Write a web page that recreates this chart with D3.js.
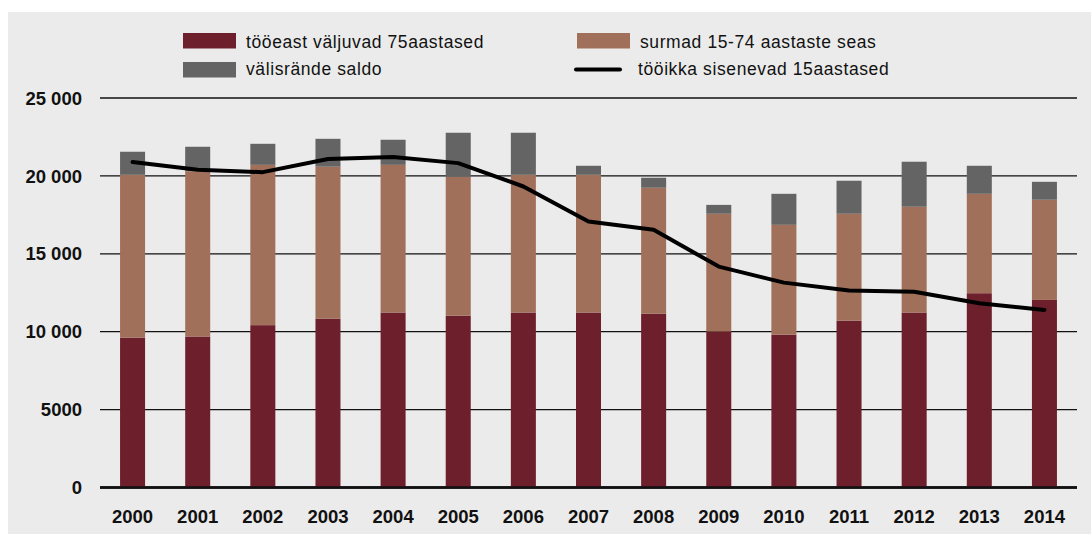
<!DOCTYPE html>
<html>
<head>
<meta charset="utf-8">
<script src="https://cdn.jsdelivr.net/npm/d3@7"></script>
<style>
  html, body { margin: 0; padding: 0; background: #fff; }
  svg { display: block; font-family: "Liberation Sans", Arial, sans-serif; }
</style>
</head>
<body>
<svg id="chart" width="1091" height="534"></svg>
<script>
// andmed
const years = ["2000","2001","2002","2003","2004","2005","2006","2007","2008","2009","2010","2011","2012","2013","2014"];
const retiring75 = [9620, 9690, 10420, 10840, 11230, 11030, 11230, 11230, 11160, 10010, 9810, 10710, 11230, 12470, 12040];
const deaths1574 = [10450, 10610, 10290, 9750, 9480, 8910, 8840, 8840, 8080, 7560, 7050, 6860, 6790, 6380, 6430];
const migration = [1480, 1570, 1350, 1790, 1610, 2830, 2700, 580, 640, 570, 1990, 2120, 2890, 1800, 1150];
const entering15 = [20890, 20390, 20240, 21080, 21210, 20820, 19320, 17070, 16540, 14180, 13150, 12640, 12560, 11830, 11400];
const yTicks = [0, 5000, 10000, 15000, 20000, 25000];

const seriesNames = ["tööeast väljuvad 75aastased", "surmad 15-74 aastaste seas", "välisrände saldo"];
const lineName = "tööikka sisenevad 15aastased";
const colors = ["#6e1f2c", "#a0705b", "#646464"];

const svg = d3.select("#chart");

// taust
svg.append("rect")
  .attr("x", 8).attr("y", 12)
  .attr("width", 1083).attr("height", 522)
  .attr("fill", "#ebebeb");

const x = d3.scaleBand()
  .domain(years)
  .range([100, 1077])
  .paddingInner(0.616)
  .paddingOuter(0.308);

const y = d3.scaleLinear()
  .domain([0, 25000])
  .range([487.5, 98]);

// ruudustik
const grid = svg.append("g").attr("class", "grid");
grid.selectAll("line")
  .data(yTicks)
  .enter()
  .append("line")
  .attr("x1", 100).attr("x2", 1077)
  .attr("y1", d => y(d)).attr("y2", d => y(d))
  .attr("stroke", "#111")
  .attr("stroke-width", d => d === 0 ? 2.6 : 1.3);

// y-telje sildid
const fmt = d => d >= 10000 ? d3.format(",")(d).replace(/,/g, " ") : String(d);
svg.append("g").selectAll("text")
  .data(yTicks)
  .enter()
  .append("text")
  .attr("x", 82)
  .attr("y", d => y(d))
  .attr("dy", "0.36em")
  .attr("text-anchor", "end")
  .attr("font-size", 18.5)
  .attr("font-weight", "bold")
  .attr("fill", "#111")
  .text(fmt);

// virnastatud tulbad
const table = years.map((yr, i) => ({
  year: yr,
  s0: retiring75[i],
  s1: deaths1574[i],
  s2: migration[i]
}));
const stack = d3.stack().keys(["s0", "s1", "s2"])(table);

const barLayer = svg.append("g").attr("class", "bars");
barLayer.selectAll("g")
  .data(stack)
  .enter()
  .append("g")
  .attr("fill", (_, i) => colors[i])
  .selectAll("rect")
  .data(d => d)
  .enter()
  .append("rect")
  .attr("x", d => x(d.data.year))
  .attr("width", x.bandwidth())
  .attr("y", d => y(d[1]))
  .attr("height", d => y(d[0]) - y(d[1]));

// null-joon üle tulpade
svg.append("line")
  .attr("x1", 100).attr("x2", 1077)
  .attr("y1", y(0)).attr("y2", y(0))
  .attr("stroke", "#111")
  .attr("stroke-width", 2.6);

// joon
const line = d3.line()
  .x((_, i) => x(years[i]) + x.bandwidth() / 2)
  .y(d => y(d));

svg.append("path")
  .datum(entering15)
  .attr("d", line)
  .attr("fill", "none")
  .attr("stroke", "#000")
  .attr("stroke-width", 4)
  .attr("stroke-linejoin", "round")
  .attr("stroke-linecap", "round");

// x-telje sildid
svg.append("g").selectAll("text")
  .data(years)
  .enter()
  .append("text")
  .attr("x", d => x(d) + x.bandwidth() / 2)
  .attr("y", 523)
  .attr("text-anchor", "middle")
  .attr("font-size", 18.5)
  .attr("font-weight", "bold")
  .attr("fill", "#111")
  .text(d => d);

// legend
const legend = svg.append("g").attr("class", "legend");
const legendPos = [[183, 33, 47.5], [577, 33, 47.5], [183, 62, 75]];
seriesNames.forEach((name, i) => {
  const [lx, ly, base] = legendPos[i];
  legend.append("rect")
    .attr("x", lx).attr("y", ly)
    .attr("width", 53).attr("height", 15.5)
    .attr("fill", colors[i]);
  legend.append("text")
    .attr("x", lx + 63).attr("y", base)
    .attr("font-size", 17.5)
    .attr("letter-spacing", 0.6)
    .attr("fill", "#111")
    .text(name);
});
legend.append("line")
  .attr("x1", 576).attr("x2", 620)
  .attr("y1", 69.5).attr("y2", 69.5)
  .attr("stroke", "#000")
  .attr("stroke-width", 4)
  .attr("stroke-linecap", "round");
legend.append("text")
  .attr("x", 638).attr("y", 75)
  .attr("font-size", 17.5)
  .attr("letter-spacing", 0.6)
  .attr("fill", "#111")
  .text(lineName);
</script>
</body>
</html>
